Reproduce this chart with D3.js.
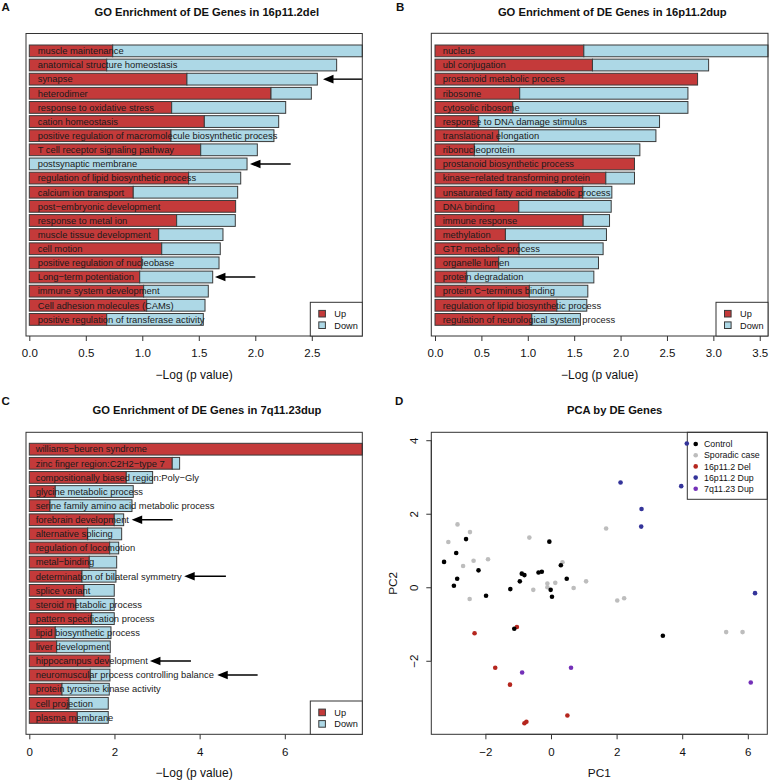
<!DOCTYPE html>
<html><head><meta charset="utf-8">
<script src="https://cdn.jsdelivr.net/npm/d3@7"></script>
<style>
body{margin:0;background:#fff}
svg{display:block}
text{font-family:"Liberation Sans",Arial,Helvetica,sans-serif}
</style>
</head><body>
<svg id="chart" width="769" height="781"></svg>
<script>
// ---------------- DATA ----------------
const seriesNames = ["Up", "Down"];

const aCategories = ["muscle maintenance","anatomical structure homeostasis","synapse","heterodimer",
 "response to oxidative stress","cation homeostasis","positive regulation of macromolecule biosynthetic process",
 "T cell receptor signaling pathway","postsynaptic membrane","regulation of lipid biosynthetic process",
 "calcium ion transport","post\u2212embryonic development","response to metal ion","muscle tissue development",
 "cell motion","positive regulation of nucleobase","Long\u2212term potentiation","immune system development",
 "Cell adhesion molecules (CAMs)","positive regulation of transferase activity"];
const aUp   = [0.738,0.685,1.395,2.139,1.260,1.549,1.254,1.517,0.000,1.410,0.920,1.826,1.304,1.145,1.172,0.995,0.977,1.012,1.039,0.685];
const aDown = [2.209,2.035,1.154,0.357,1.009,0.658,0.911,0.501,1.927,0.461,0.924,0.000,0.519,0.569,0.518,0.684,0.646,0.572,0.516,0.855];
const aTicks = [0,0.5,1,1.5,2,2.5];
const aArrows = [["synapse",2.944,2.599],["postsynaptic membrane",2.313,1.953],["Long\u2212term potentiation",2.0,1.643]];

const bCategories = ["nucleus","ubl conjugation","prostanoid metabolic process","ribosome","cytosolic ribosome",
 "response to DNA damage stimulus","translational elongation","ribonucleoprotein","prostanoid biosynthetic process",
 "kinase\u2212related transforming protein","unsaturated fatty acid metabolic process","DNA binding","immune response",
 "methylation","GTP metabolic process","organelle lumen","protein degradation","protein C\u2212terminus binding",
 "regulation of lipid biosynthetic process","regulation of neurological system process"];
const bUp   = [1.604,1.697,2.830,0.913,0.838,0.471,0.687,0.424,2.150,1.841,1.593,0.903,1.597,0.759,0.906,0.687,0.342,1.017,1.313,1.043];
const bDown = [1.985,1.252,0.000,1.813,1.888,1.949,1.694,1.784,0.000,0.309,0.313,0.996,0.284,1.089,0.906,1.075,1.370,0.630,0.323,0.524];
const bTicks = [0,0.5,1,1.5,2,2.5,3,3.5];

const cCategories = ["williams\u2212beuren syndrome","zinc finger region:C2H2\u2212type 7","compositionally biased region:Poly\u2212Gly",
 "glycine metabolic process","serine family amino acid metabolic process","forebrain development","alternative splicing",
 "regulation of locomotion","metal\u2212binding","determination of bilateral symmetry","splice variant",
 "steroid metabolic process","pattern specification process","lipid biosynthetic process","liver development",
 "hippocampus development","neuromuscular process controlling balance","protein tyrosine kinase activity",
 "cell projection","plasma membrane"];
const cUp   = [7.820,3.357,2.277,0.610,0.486,1.995,1.371,1.887,1.408,1.237,1.284,1.096,1.465,0.610,0.643,1.894,1.432,0.768,0.932,1.127];
const cDown = [0.000,0.173,0.619,1.831,1.925,0.221,0.798,0.212,0.644,0.798,0.711,0.899,0.530,1.308,1.258,0.000,0.462,1.110,0.922,0.727];
const cTicks = [0,2,4,6];
const cArrows = [["forebrain development",3.366,2.404],["determination of bilateral symmetry",4.617,3.638],
 ["hippocampus development",3.796,2.833],["neuromuscular process controlling balance",5.362,4.413]];

const pcaGroups = ["Control","Sporadic case","16p11.2 Del","16p11.2 Dup","7q11.23 Dup"];
const controlPC1 = [-2.59,-2.89,-0.05,-3.26,-2.21,-0.89,-0.81,-0.38,-0.28,0.30,-2.86,0.48,-0.95,-2.96,-1.98,-1.24,-0.01,0.03,3.41,-1.12];
const controlPC2 = [1.31,0.93,1.24,0.69,0.46,0.37,0.33,0.40,0.42,0.60,0.23,0.23,0.16,0.04,-0.23,-0.05,-0.07,-0.26,-1.32,-1.13];
const sporadicPC1 = [1.68,-2.85,-2.47,-3.13,-0.66,-2.68,-2.36,-1.92,0.35,-0.11,-0.11,0.13,-0.54,0.69,1.07,-2.48,2.02,2.23,5.34,5.84];
const sporadicPC2 = [1.60,1.71,1.50,1.23,1.35,0.58,0.72,0.76,0.68,0.10,0.00,0.12,-0.07,-0.02,0.16,-0.32,-0.36,-0.30,-1.22,-1.22];
const delPC1 = [-2.33,-1.04,-1.70,-1.25,0.50,-0.81,-0.75];
const delPC2 = [-1.25,-1.08,-2.19,-2.65,-3.49,-3.70,-3.66];
const dupPC1 = [4.14,2.12,3.97,2.76,2.75,6.22];
const dupPC2 = [3.91,2.85,2.75,2.13,1.65,-0.16];
const q7PC1 = [-0.88,0.61,6.09];
const q7PC2 = [-2.32,-2.19,-2.59];
const pcaXTicks = [-2,0,2,4,6];
const pcaYTicks = [-2,0,2,4];

// ---------------- STYLE ----------------
const RED = "#C43A3A", BLUE = "#ADD8E6", EDGE = "#3a3a3a";
const groupColors = ["#000000","#BDBDBD","#B5261E","#34349A","#7430B8"];
const minus = s => String(s).replace("-", "\u2212");

const svg = d3.select("#chart");

function barPanel(o) {
  const g = svg.append("g");
  const table = o.cats.map((c, i) => ({cat: c, Up: o.up[i], Down: o.down[i]}));
  const stack = d3.stack().keys(seriesNames)(table);
  const xMax = d3.max(table, d => d.Up + d.Down);
  const x = d3.scaleLinear().domain([0, xMax]).range([o.x0, o.box.r]);
  const y = d3.scaleBand().domain(o.cats).range([o.bandTop, o.bandBottom]).paddingInner(0.2 / 1.2).paddingOuter(0);
  const fills = [RED, BLUE];

  // bars
  stack.forEach((layer, k) => {
    g.append("g").selectAll("rect").data(layer.filter(d => d[1] - d[0] > 0)).join("rect")
      .attr("x", d => x(d[0])).attr("width", d => x(d[1]) - x(d[0]))
      .attr("y", d => y(d.data.cat)).attr("height", y.bandwidth())
      .attr("fill", fills[k]).attr("stroke", EDGE).attr("stroke-width", 1);
  });
  // labels
  g.append("g").selectAll("text").data(table).join("text")
    .attr("x", o.labelX).attr("y", d => y(d.cat) + y.bandwidth() / 2 + 3.3)
    .attr("font-size", 9.4).attr("fill", "#1a1a1a").text(d => d.cat);

  // arrows
  (o.arrows || []).forEach(([cat, from, to]) => {
    const yy = y(cat) + y.bandwidth() / 2;
    const x1 = x(from), x2 = x(to);
    g.append("line").attr("x1", x1).attr("x2", x2 + 8).attr("y1", yy).attr("y2", yy)
      .attr("stroke", "#000").attr("stroke-width", 1.4);
    g.append("path").attr("d", `M${x2},${yy} L${x2 + 10.5},${yy - 4.3} L${x2 + 10.5},${yy + 4.3} Z`).attr("fill", "#000");
  });

  // box
  g.append("rect").attr("x", o.box.l).attr("y", o.box.t).attr("width", o.box.r - o.box.l).attr("height", o.box.b - o.box.t)
    .attr("fill", "none").attr("stroke", "#333").attr("stroke-width", 1);

  // axis
  const axis = d3.axisBottom(x).tickValues(o.ticks).tickFormat(o.fmt).tickSize(5).tickPadding(5);
  const ax = g.append("g").attr("transform", `translate(0,${o.box.b})`).call(axis);
  ax.select(".domain").remove();
  ax.selectAll("line").attr("stroke", "#333");
  ax.selectAll("text").attr("font-size", 11.5).attr("fill", "#111").attr("dy", null).attr("y", 21.4);
  g.append("text").attr("x", (o.box.l + o.box.r) / 2).attr("y", o.box.b + 42.7).attr("text-anchor", "middle")
    .attr("font-size", 12).attr("fill", "#111").text("\u2212Log (p value)");

  // legend
  const L = o.legend;
  g.append("rect").attr("x", L.l).attr("y", L.t).attr("width", o.box.r - L.l).attr("height", o.box.b - L.t)
    .attr("fill", "#fff").attr("stroke", "#333");
  seriesNames.forEach((s, i) => {
    const cy = L.t + 11.4 + i * 11.5;
    g.append("rect").attr("x", L.l + 8.5).attr("y", cy - 3.3).attr("width", 6.6).attr("height", 6.6)
      .attr("fill", fills[i]).attr("stroke", EDGE);
    g.append("text").attr("x", L.l + 24).attr("y", cy + 3.3).attr("font-size", 9.2).attr("fill", "#111").text(s);
  });

  // titles
  g.append("text").attr("x", o.titleX).attr("y", o.titleY).attr("text-anchor", "middle")
    .attr("font-size", 11.2).attr("font-weight", "bold").attr("fill", "#111").text(o.title);
  g.append("text").attr("x", o.letterX).attr("y", o.letterY)
    .attr("font-size", 11.5).attr("font-weight", "bold").attr("fill", "#111").text(o.letter);
}

barPanel({cats: aCategories, up: aUp, down: aDown, box: {l: 26, t: 33.5, r: 362.3, b: 336}, x0: 29.3,
  bandTop: 45, bandBottom: 325.3, ticks: aTicks, fmt: d3.format(".1f"), labelX: 37.7, arrows: aArrows,
  legend: {l: 310.3, t: 302.3}, title: "GO Enrichment of DE Genes in 16p11.2del", titleX: 206.8, titleY: 15.7,
  letter: "A", letterX: 1.5, letterY: 10.8});

barPanel({cats: bCategories, up: bUp, down: bDown, box: {l: 431.3, t: 33.3, r: 768, b: 336}, x0: 435,
  bandTop: 45, bandBottom: 325.3, ticks: bTicks, fmt: d3.format(".1f"), labelX: 442.7, arrows: [],
  legend: {l: 716, t: 302.3}, title: "GO Enrichment of DE Genes in 16p11.2dup", titleX: 612.3, titleY: 15.7,
  letter: "B", letterX: 396, letterY: 10.8});

barPanel({cats: cCategories, up: cUp, down: cDown, box: {l: 26, t: 432.3, r: 362.3, b: 734.3}, x0: 29.3,
  bandTop: 443.3, bandBottom: 723.3, ticks: cTicks, fmt: d3.format("d"), labelX: 35.7, arrows: cArrows,
  legend: {l: 310.3, t: 701}, title: "GO Enrichment of DE Genes in 7q11.23dup", titleX: 207, titleY: 414.3,
  letter: "C", letterX: 1.5, letterY: 404.5});

// ---------------- PCA ----------------
(function () {
  const box = {l: 431.3, t: 432.3, r: 767.3, b: 734.3};
  const g = svg.append("g");
  const x = d3.scaleLinear().domain([-3.649, 6.594]).range([box.l, box.r]);
  const y = d3.scaleLinear().domain([-4.0, 4.215]).range([box.b, box.t]);
  const sets = [
    {gi: 1, xs: sporadicPC1, ys: sporadicPC2},
    {gi: 2, xs: delPC1, ys: delPC2},
    {gi: 3, xs: dupPC1, ys: dupPC2},
    {gi: 4, xs: q7PC1, ys: q7PC2},
    {gi: 0, xs: controlPC1, ys: controlPC2}
  ];
  // legend box (drawn first, no fill)
  g.append("rect").attr("x", 687.3).attr("y", box.t).attr("width", box.r - 687.3).attr("height", 499.3 - box.t)
    .attr("fill", "#fff").attr("stroke", "#333");
  sets.forEach(s => {
    g.append("g").selectAll("circle").data(s.xs.map((v, i) => [v, s.ys[i]])).join("circle")
      .attr("cx", d => x(d[0])).attr("cy", d => y(d[1])).attr("r", 2.3).attr("fill", groupColors[s.gi]);
  });
  pcaGroups.forEach((name, i) => {
    const cy = 444 + i * 11.2;
    g.append("circle").attr("cx", 695.7).attr("cy", cy).attr("r", 2.3).attr("fill", groupColors[i]);
    g.append("text").attr("x", 704).attr("y", cy + 3.2).attr("font-size", 8.8).attr("fill", "#111").text(name);
  });
  g.append("rect").attr("x", box.l).attr("y", box.t).attr("width", box.r - box.l).attr("height", box.b - box.t)
    .attr("fill", "none").attr("stroke", "#333");
  const ax = g.append("g").attr("transform", `translate(0,${box.b})`)
    .call(d3.axisBottom(x).tickValues(pcaXTicks).tickFormat(minus).tickSize(5));
  ax.select(".domain").attr("d", `M${x(pcaXTicks[0])},0H${x(pcaXTicks[pcaXTicks.length - 1])}`).attr("stroke", "#333");
  ax.selectAll("line").attr("stroke", "#333");
  ax.selectAll("text").attr("font-size", 11.5).attr("fill", "#111").attr("dy", null).attr("y", 21.4);
  const ay = g.append("g").attr("transform", `translate(${box.l},0)`)
    .call(d3.axisLeft(y).tickValues(pcaYTicks).tickFormat(minus).tickSize(5));
  ay.select(".domain").attr("d", `M0,${y(pcaYTicks[0])}V${y(pcaYTicks[pcaYTicks.length - 1])}`).attr("stroke", "#333");
  ay.selectAll("line").attr("stroke", "#333");
  ay.selectAll("text").attr("font-size", 11.5).attr("fill", "#111").attr("dy", null).attr("x", null)
    .attr("text-anchor", "middle").attr("transform", "translate(-13.8,0) rotate(-90)");
  g.append("text").attr("x", (box.l + box.r) / 2).attr("y", 776.7).attr("text-anchor", "middle")
    .attr("font-size", 11.8).attr("fill", "#111").text("PC1");
  g.append("text").attr("transform", `translate(396.5,${(box.t + box.b) / 2}) rotate(-90)`).attr("text-anchor", "middle")
    .attr("font-size", 11.8).attr("fill", "#111").text("PC2");
  g.append("text").attr("x", 614.7).attr("y", 413.5).attr("text-anchor", "middle")
    .attr("font-size", 11.2).attr("font-weight", "bold").attr("fill", "#111").text("PCA by DE Genes");
  g.append("text").attr("x", 395).attr("y", 404.5)
    .attr("font-size", 11.5).attr("font-weight", "bold").attr("fill", "#111").text("D");
})();
</script>
</body></html>
